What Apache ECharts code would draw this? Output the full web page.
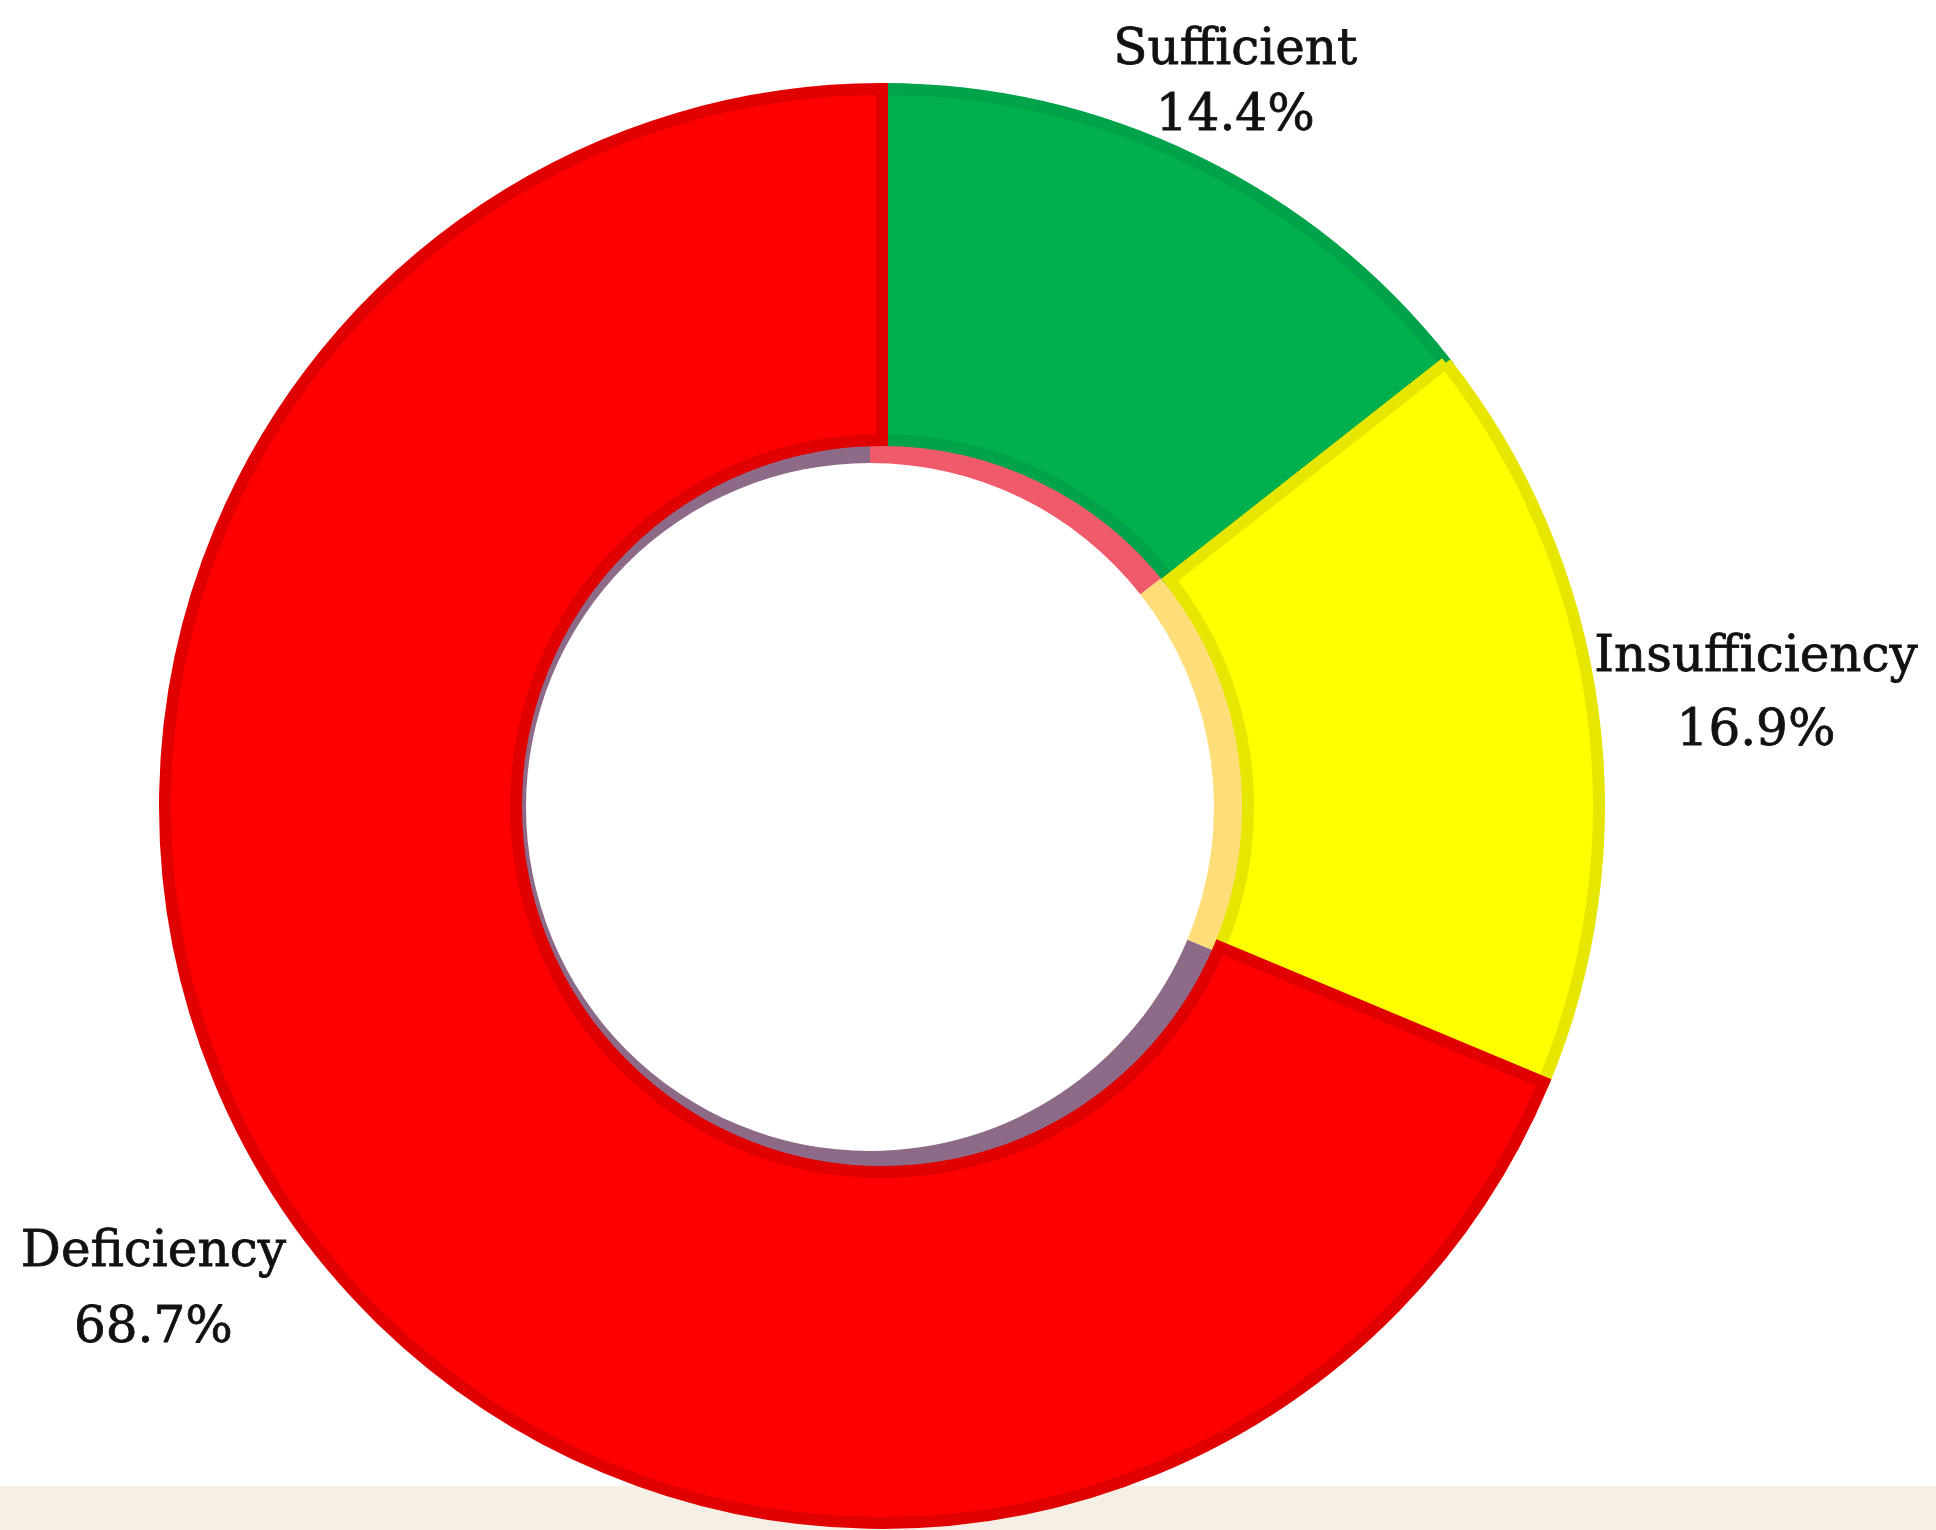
<!DOCTYPE html>
<html>
<head>
<meta charset="utf-8">
<script src="https://cdn.jsdelivr.net/npm/echarts@6/dist/echarts.min.js"></script>
<style>
  html, body { margin: 0; padding: 0; }
  body { width: 1936px; height: 1530px; background: linear-gradient(to bottom, #ffffff 0px, #ffffff 1486px, #F6EFE5 1486px, #F6EFE5 1530px); }
  #chart { width: 1936px; height: 1530px; }
</style>
</head>
<body>
<div id="chart"></div>
<script>
// ---- data ----
const categories = ['Sufficient', 'Insufficiency', 'Deficiency'];
const values = [14.4, 16.9, 68.7];
const sliceColors = ['#00AF4E', '#FFFF00', '#FF0000'];
const borderColors = ['#00A349', '#E6E600', '#E00000'];
const ringColors = ['#F05B6B', '#FFDE7A', '#8E6A89'];

// ---- layout (not data) ----
const labelOffsets = [[-31, 69], [3, 7], [3, -2]];
const labelLineHeights = [66, 74, 76];

const chart = echarts.init(document.getElementById('chart'), null, { renderer: 'canvas' });

const mainData = categories.map((c, i) => ({
  name: c, value: values[i],
  itemStyle: { color: sliceColors[i], borderColor: borderColors[i] }
}));
const ringData = categories.map((c, i) => ({
  name: c, value: values[i], itemStyle: { color: ringColors[i] }
}));
const labelData = categories.map((c, i) => ({
  name: c, value: values[i],
  label: { offset: labelOffsets[i], lineHeight: labelLineHeights[i] }
}));

chart.setOption({
  animation: false,
  series: [
    {
      type: 'pie', name: 'ring', z: 1, silent: true,
      center: [870, 807], radius: [344, 376], startAngle: 90, clockwise: true,
      label: { show: false }, labelLine: { show: false },
      data: ringData
    },
    {
      type: 'pie', name: 'main', z: 2, silent: true,
      center: [882, 806], radius: [366, 717], startAngle: 90, clockwise: true,
      itemStyle: { borderWidth: 12, borderJoin: 'miter' },
      label: { show: false }, labelLine: { show: false },
      data: mainData
    },
    {
      type: 'pie', name: 'labels', z: 3, silent: true,
      center: [882, 806], radius: [871, 881], startAngle: 90, clockwise: true,
      itemStyle: { color: 'rgba(0,0,0,0)', borderWidth: 0 },
      labelLine: { show: false },
      label: {
        show: true, position: 'inside',
        formatter: p => p.name + '\n' + p.value.toFixed(1) + '%',
        fontFamily: 'DejaVu Serif', fontSize: 50, lineHeight: 72,
        color: '#111111', align: 'center',
        textBorderColor: '#111111', textBorderWidth: 0.8
      },
      data: labelData
    }
  ]
});
</script>
</body>
</html>
